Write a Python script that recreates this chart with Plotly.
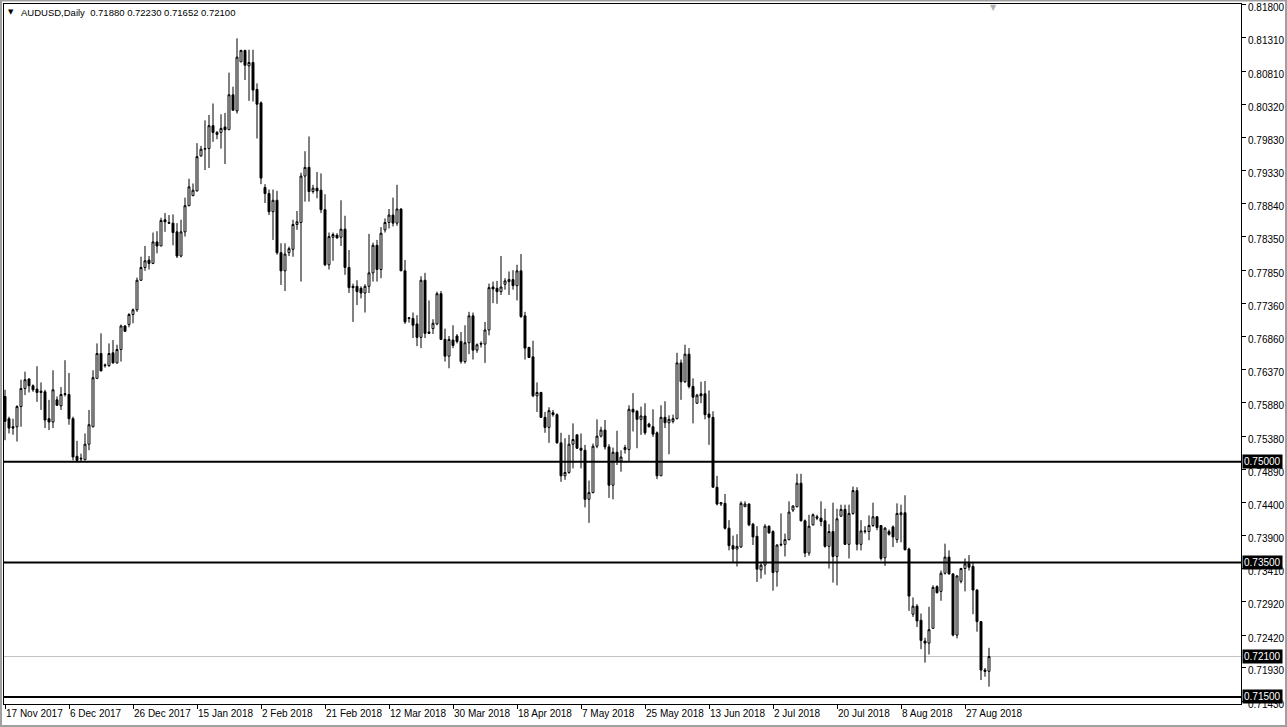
import pandas as pd
import plotly.graph_objects as go

# ---------------- data ----------------
symbol = "AUDUSD"
timeframe = "Daily"

# daily bars (Sun-Fri, broker calendar), 17 Nov 2017 .. 3 Sep 2018
_all_days = pd.date_range("2017-11-17", "2018-09-03", freq="D")
holidays = ["2017-12-25", "2018-01-01"]
dates = [d for d in _all_days if d.weekday() != 5 and d.strftime("%Y-%m-%d") not in holidays]

opens = [
    0.7597, 0.7564, 0.7552, 0.7552, 0.7582, 0.7609, 0.7623, 0.7613, 0.7608, 0.7605,
    0.7604, 0.7564, 0.7559, 0.7592, 0.7583, 0.7600, 0.7600, 0.7564, 0.7508, 0.7504,
    0.7503, 0.7526, 0.7552, 0.7624, 0.7661, 0.7644, 0.7643, 0.7662, 0.7647, 0.7667,
    0.7702, 0.7704, 0.7719, 0.7726, 0.7770, 0.7789, 0.7800, 0.7795, 0.7827, 0.7821,
    0.7860, 0.7856, 0.7855, 0.7842, 0.7806, 0.7842, 0.7881, 0.7896, 0.7903, 0.7955,
    0.7965, 0.7966, 0.8000, 0.7987, 0.7990, 0.7998, 0.7994, 0.8046, 0.8022, 0.8095,
    0.8112, 0.8089, 0.8094, 0.8054, 0.8034, 0.7908, 0.7899, 0.7872, 0.7889, 0.7811,
    0.7784, 0.7811, 0.7816, 0.7853, 0.7856, 0.7925, 0.7938, 0.7902, 0.7907, 0.7904,
    0.7875, 0.7793, 0.7834, 0.7837, 0.7834, 0.7846, 0.7789, 0.7761, 0.7761, 0.7758,
    0.7751, 0.7761, 0.7781, 0.7822, 0.7786, 0.7845, 0.7856, 0.7867, 0.7855, 0.7876,
    0.7784, 0.7713, 0.7713, 0.7705, 0.7685, 0.7770, 0.7693, 0.7698, 0.7705, 0.7750,
    0.7682, 0.7657, 0.7681, 0.7687, 0.7679, 0.7649, 0.7677, 0.7717, 0.7666, 0.7676,
    0.7675, 0.7696, 0.7760, 0.7758, 0.7753, 0.7764, 0.7768, 0.7771, 0.7762, 0.7784,
    0.7717, 0.7670, 0.7656, 0.7598, 0.7603, 0.7566, 0.7551, 0.7573, 0.7570, 0.7528,
    0.7479, 0.7484, 0.7526, 0.7540, 0.7520, 0.7517, 0.7444, 0.7454, 0.7523, 0.7538,
    0.7547, 0.7522, 0.7465, 0.7514, 0.7501, 0.7518, 0.7518, 0.7578, 0.7575, 0.7563,
    0.7568, 0.7556, 0.7552, 0.7543, 0.7479, 0.7566, 0.7558, 0.7560, 0.7564, 0.7647,
    0.7619, 0.7660, 0.7612, 0.7587, 0.7601, 0.7601, 0.7571, 0.7566, 0.7462, 0.7437,
    0.7438, 0.7401, 0.7375, 0.7370, 0.7373, 0.7433, 0.7437, 0.7407, 0.7389, 0.7339,
    0.7346, 0.7404, 0.7396, 0.7336, 0.7376, 0.7377, 0.7384, 0.7428, 0.7433, 0.7468,
    0.7412, 0.7364, 0.7406, 0.7418, 0.7416, 0.7412, 0.7374, 0.7396, 0.7359, 0.7419,
    0.7429, 0.7377, 0.7423, 0.7457, 0.7377, 0.7397, 0.7396, 0.7405, 0.7418, 0.7405,
    0.7357, 0.7396, 0.7403, 0.7384, 0.7421, 0.7424, 0.7370, 0.7273, 0.7285, 0.7264,
    0.7233, 0.7230, 0.7252, 0.7314, 0.7307, 0.7334, 0.7358, 0.7333, 0.7242, 0.7322,
    0.7341, 0.7349, 0.7344, 0.7309, 0.7262, 0.7190, 0.71880,
]
highs = [
    0.7607, 0.7567, 0.7564, 0.7584, 0.7622, 0.7634, 0.7624, 0.7615, 0.7642, 0.7618,
    0.7607, 0.7592, 0.7636, 0.7597, 0.7611, 0.7651, 0.7632, 0.7567, 0.7531, 0.7512,
    0.7542, 0.7577, 0.7636, 0.7676, 0.7691, 0.7646, 0.7676, 0.7681, 0.7674, 0.7704,
    0.7703, 0.7721, 0.7728, 0.7774, 0.7805, 0.7821, 0.7806, 0.7841, 0.7843, 0.7863,
    0.7870, 0.7867, 0.7868, 0.7855, 0.7860, 0.7893, 0.7921, 0.7914, 0.7974, 0.7970,
    0.8008, 0.8016, 0.8033, 0.7992, 0.8017, 0.8019, 0.8079, 0.8058, 0.8130, 0.8113,
    0.8113, 0.8113, 0.8113, 0.8063, 0.8036, 0.7913, 0.7905, 0.7905, 0.7903, 0.7825,
    0.7825, 0.7820, 0.7860, 0.7873, 0.7930, 0.7962, 0.7984, 0.7912, 0.7931, 0.7929,
    0.7898, 0.7841, 0.7841, 0.7840, 0.7889, 0.7866, 0.7815, 0.7765, 0.7770, 0.7761,
    0.7764, 0.7839, 0.7826, 0.7830, 0.7849, 0.7862, 0.7876, 0.7893, 0.7912, 0.7877,
    0.7800, 0.7715, 0.7722, 0.7718, 0.7776, 0.7781, 0.7740, 0.7712, 0.7753, 0.7754,
    0.7698, 0.7687, 0.7703, 0.7690, 0.7693, 0.7703, 0.7723, 0.7722, 0.7676, 0.7679,
    0.7708, 0.7765, 0.7768, 0.7769, 0.7806, 0.7773, 0.7783, 0.7785, 0.7793, 0.7809,
    0.7723, 0.7671, 0.7680, 0.7618, 0.7604, 0.7574, 0.7581, 0.7577, 0.7572, 0.7543,
    0.7535, 0.7540, 0.7557, 0.7540, 0.7542, 0.7525, 0.7472, 0.7527, 0.7563, 0.7552,
    0.7562, 0.7526, 0.7521, 0.7546, 0.7517, 0.7525, 0.7584, 0.7602, 0.7577, 0.7582,
    0.7587, 0.7558, 0.7578, 0.7545, 0.7584, 0.7590, 0.7569, 0.7570, 0.7662, 0.7652,
    0.7674, 0.7669, 0.7624, 0.7601, 0.7619, 0.7620, 0.7606, 0.7575, 0.7479, 0.7440,
    0.7452, 0.7413, 0.7390, 0.7392, 0.7441, 0.7441, 0.7438, 0.7409, 0.7404, 0.7349,
    0.7407, 0.7405, 0.7398, 0.7377, 0.7423, 0.7393, 0.7441, 0.7435, 0.7482, 0.7482,
    0.7414, 0.7421, 0.7423, 0.7421, 0.7441, 0.7430, 0.7407, 0.7439, 0.7430, 0.7436,
    0.7436, 0.7436, 0.7463, 0.7462, 0.7413, 0.7404, 0.7420, 0.7439, 0.7419, 0.7405,
    0.7403, 0.7399, 0.7405, 0.7438, 0.7436, 0.7450, 0.7372, 0.7298, 0.7288, 0.7274,
    0.7238, 0.7284, 0.7316, 0.7316, 0.7338, 0.7378, 0.7368, 0.7334, 0.7331, 0.7342,
    0.7356, 0.7361, 0.7349, 0.7310, 0.7263, 0.7193, 0.72230,
]
lows = [
    0.7532, 0.7542, 0.7540, 0.7530, 0.7552, 0.7599, 0.7603, 0.7604, 0.7589, 0.7577,
    0.7550, 0.7547, 0.7550, 0.7583, 0.7577, 0.7597, 0.7555, 0.7502, 0.7500, 0.7500,
    0.7502, 0.7517, 0.7551, 0.7624, 0.7635, 0.7640, 0.7641, 0.7646, 0.7646, 0.7649,
    0.7694, 0.7700, 0.7706, 0.7723, 0.7769, 0.7784, 0.7786, 0.7794, 0.7810, 0.7821,
    0.7842, 0.7854, 0.7822, 0.7803, 0.7804, 0.7835, 0.7880, 0.7895, 0.7902, 0.7954,
    0.7934, 0.7937, 0.7976, 0.7980, 0.7966, 0.7943, 0.7994, 0.8023, 0.8018, 0.8095,
    0.8068, 0.8037, 0.8036, 0.7981, 0.7913, 0.7885, 0.7867, 0.7830, 0.7808, 0.7763,
    0.7754, 0.7806, 0.7805, 0.7845, 0.7768, 0.7887, 0.7887, 0.7899, 0.7892, 0.7870,
    0.7791, 0.7786, 0.7799, 0.7832, 0.7821, 0.7778, 0.7751, 0.7708, 0.7733, 0.7743,
    0.7722, 0.7751, 0.7768, 0.7768, 0.7773, 0.7841, 0.7847, 0.7850, 0.7851, 0.7784,
    0.7705, 0.7707, 0.7684, 0.7672, 0.7669, 0.7684, 0.7690, 0.7690, 0.7703, 0.7681,
    0.7649, 0.7639, 0.7669, 0.7676, 0.7646, 0.7646, 0.7660, 0.7652, 0.7662, 0.7670,
    0.7647, 0.7688, 0.7736, 0.7735, 0.7748, 0.7756, 0.7748, 0.7756, 0.7740, 0.7714,
    0.7652, 0.7655, 0.7596, 0.7574, 0.7565, 0.7543, 0.7528, 0.7567, 0.7527, 0.7470,
    0.7473, 0.7482, 0.7490, 0.7519, 0.7490, 0.7432, 0.7409, 0.7453, 0.7520, 0.7536,
    0.7518, 0.7446, 0.7444, 0.7495, 0.7485, 0.7512, 0.7500, 0.7545, 0.7520, 0.7540,
    0.7540, 0.7551, 0.7537, 0.7474, 0.7479, 0.7550, 0.7511, 0.7557, 0.7563, 0.7592,
    0.7617, 0.7609, 0.7557, 0.7586, 0.7587, 0.7563, 0.7525, 0.7462, 0.7435, 0.7434,
    0.7399, 0.7368, 0.7350, 0.7344, 0.7372, 0.7433, 0.7404, 0.7376, 0.7321, 0.7326,
    0.7332, 0.7393, 0.7308, 0.7314, 0.7374, 0.7359, 0.7383, 0.7425, 0.7432, 0.7411,
    0.7358, 0.7360, 0.7405, 0.7413, 0.7404, 0.7372, 0.7341, 0.7320, 0.7316, 0.7418,
    0.7376, 0.7356, 0.7421, 0.7368, 0.7368, 0.7393, 0.7383, 0.7403, 0.7398, 0.7353,
    0.7345, 0.7390, 0.7373, 0.7379, 0.7380, 0.7368, 0.7278, 0.7269, 0.7254, 0.7221,
    0.7201, 0.7213, 0.7252, 0.7304, 0.7293, 0.7332, 0.7332, 0.7240, 0.7237, 0.7319,
    0.7307, 0.7338, 0.7273, 0.7247, 0.7175, 0.7180, 0.71652,
]
closes = [
    0.7560, 0.7550, 0.7550, 0.7582, 0.7609, 0.7622, 0.7613, 0.7607, 0.7603, 0.7603,
    0.7562, 0.7559, 0.7607, 0.7584, 0.7600, 0.7601, 0.7564, 0.7507, 0.7502, 0.7505,
    0.7526, 0.7555, 0.7625, 0.7661, 0.7635, 0.7643, 0.7661, 0.7647, 0.7667, 0.7702,
    0.7694, 0.7719, 0.7726, 0.7770, 0.7789, 0.7799, 0.7795, 0.7827, 0.7821, 0.7859,
    0.7857, 0.7855, 0.7841, 0.7806, 0.7842, 0.7881, 0.7909, 0.7904, 0.7954, 0.7965,
    0.7966, 0.8000, 0.7990, 0.7990, 0.7996, 0.7994, 0.8046, 0.8023, 0.8102, 0.8112,
    0.8090, 0.8094, 0.8053, 0.8032, 0.7922, 0.7899, 0.7872, 0.7889, 0.7811, 0.7784,
    0.7809, 0.7817, 0.7853, 0.7857, 0.7925, 0.7938, 0.7902, 0.7907, 0.7903, 0.7875,
    0.7793, 0.7835, 0.7838, 0.7833, 0.7846, 0.7789, 0.7759, 0.7759, 0.7753, 0.7751,
    0.7761, 0.7781, 0.7822, 0.7786, 0.7840, 0.7856, 0.7867, 0.7855, 0.7876, 0.7784,
    0.7708, 0.7714, 0.7703, 0.7685, 0.7770, 0.7691, 0.7691, 0.7706, 0.7750, 0.7682,
    0.7657, 0.7682, 0.7673, 0.7679, 0.7649, 0.7677, 0.7717, 0.7666, 0.7674, 0.7675,
    0.7696, 0.7759, 0.7757, 0.7753, 0.7760, 0.7769, 0.7771, 0.7762, 0.7784, 0.7716,
    0.7669, 0.7655, 0.7598, 0.7603, 0.7566, 0.7551, 0.7576, 0.7570, 0.7528, 0.7479,
    0.7484, 0.7526, 0.7533, 0.7520, 0.7517, 0.7444, 0.7454, 0.7523, 0.7538, 0.7547,
    0.7522, 0.7465, 0.7514, 0.7501, 0.7507, 0.7521, 0.7578, 0.7574, 0.7563, 0.7568,
    0.7543, 0.7552, 0.7541, 0.7479, 0.7566, 0.7558, 0.7563, 0.7564, 0.7647, 0.7619,
    0.7660, 0.7612, 0.7596, 0.7599, 0.7598, 0.7570, 0.7566, 0.7462, 0.7437, 0.7439,
    0.7401, 0.7375, 0.7370, 0.7374, 0.7438, 0.7437, 0.7406, 0.7388, 0.7340, 0.7346,
    0.7404, 0.7394, 0.7335, 0.7376, 0.7377, 0.7384, 0.7425, 0.7434, 0.7468, 0.7412,
    0.7364, 0.7404, 0.7421, 0.7416, 0.7411, 0.7374, 0.7396, 0.7359, 0.7415, 0.7429,
    0.7377, 0.7423, 0.7457, 0.7377, 0.7397, 0.7396, 0.7405, 0.7418, 0.7402, 0.7356,
    0.7401, 0.7392, 0.7388, 0.7423, 0.7424, 0.7369, 0.7300, 0.7285, 0.7263, 0.7234,
    0.7230, 0.7250, 0.7313, 0.7305, 0.7334, 0.7358, 0.7333, 0.7242, 0.7330, 0.7341,
    0.7348, 0.7343, 0.7309, 0.7262, 0.7190, 0.7188, 0.72100,
]

# horizontal levels drawn on the chart
support_levels = [0.7500, 0.7350, 0.7150]
bid_level = 0.7210

# price-scale labels (right axis)
price_ticks = [0.81800, 0.81310, 0.80810, 0.80320, 0.79830, 0.79330, 0.78840, 0.78350,
               0.77850, 0.77360, 0.76860, 0.76370, 0.75880, 0.75380, 0.74890, 0.74400,
               0.73900, 0.73410, 0.72920, 0.72420, 0.71930, 0.71430]
# time-scale labels
date_labels = ["17 Nov 2017", "6 Dec 2017", "26 Dec 2017", "15 Jan 2018", "2 Feb 2018",
               "21 Feb 2018", "12 Mar 2018", "30 Mar 2018", "18 Apr 2018", "7 May 2018",
               "25 May 2018", "13 Jun 2018", "2 Jul 2018", "20 Jul 2018", "8 Aug 2018",
               "27 Aug 2018"]

# ---------------- figure ----------------
W, H = 1287, 727
ML, MR, MT, MB = 4, 46, 4, 23
FONT = "Liberation Sans, Arial, sans-serif"
pw, ph = W - ML - MR, H - MT - MB

bar_pos = list(range(len(dates)))
date_keys = [d.strftime("%-d %b %Y") for d in dates]
date_tickvals = [date_keys.index(lbl) for lbl in date_labels]

fig = go.Figure()
fig.add_trace(go.Candlestick(
    x=bar_pos, open=opens, high=highs, low=lows, close=closes,
    increasing=dict(line=dict(color="black", width=1), fillcolor="white"),
    decreasing=dict(line=dict(color="black", width=1), fillcolor="black"),
    whiskerwidth=0, hoverinfo="skip", showlegend=False,
))

shapes = []
shapes.append(dict(type="line", xref="paper", yref="y", x0=0, x1=1, y0=bid_level, y1=bid_level,
                   line=dict(color="#c0c0c0", width=1), layer="below"))
for lv in support_levels:
    shapes.append(dict(type="line", xref="paper", yref="y", x0=0, x1=1, y0=lv, y1=lv,
                       line=dict(color="black", width=2), layer="above"))
# outer window frame
shapes.append(dict(type="rect", xref="paper", yref="paper",
                   x0=(1 - ML) / pw, x1=(W - 1 - ML) / pw,
                   y0=-(MB - 1) / ph, y1=1 + (MT - 0.5) / ph,
                   line=dict(color="#a0a0a0", width=2), layer="below"))

annotations = []
for lv in support_levels + [bid_level]:
    annotations.append(dict(xref="paper", yref="y", x=1, y=lv, xanchor="left", yanchor="middle",
                            xshift=1, text=f"{lv:.5f}", showarrow=False,
                            font=dict(family=FONT, size=10, color="white"),
                            bgcolor="black", borderpad=1))
header = f"{symbol},{timeframe}  {opens[-1]:.5f} {highs[-1]:.5f} {lows[-1]:.5f} {closes[-1]:.5f}"
annotations.append(dict(xref="paper", yref="paper", x=(19 - ML) / pw, y=1 - (12 - MT) / ph,
                        xanchor="left", yanchor="middle", text=header, showarrow=False,
                        font=dict(family=FONT, size=9.5, color="black")))
annotations.append(dict(xref="paper", yref="paper", x=(11 - ML) / pw, y=1 - (12 - MT) / ph,
                        xanchor="center", yanchor="middle", text="▼", showarrow=False,
                        font=dict(family="DejaVu Sans", size=7, color="black")))
annotations.append(dict(xref="paper", yref="paper", x=(993 - ML) / pw, y=1 - (7 - MT) / ph,
                        xanchor="center", yanchor="middle", text="▼", showarrow=False,
                        font=dict(family="DejaVu Sans", size=8, color="#b0b0b0")))

fig.update_layout(
    template="none",
    width=W, height=H,
    margin=dict(l=ML, r=MR, t=MT, b=MB, pad=0, autoexpand=False),
    paper_bgcolor="white", plot_bgcolor="white",
    font=dict(family=FONT, size=10, color="black"),
    shapes=shapes, annotations=annotations,
    xaxis=dict(range=[-0.25, pw / 4 - 0.25], showgrid=False, zeroline=False, automargin=False,
               rangeslider=dict(visible=False),
               tickmode="array", tickvals=date_tickvals, ticktext=date_labels,
               tickangle=0,
               ticks="outside", ticklen=4, tickcolor="black", tickwidth=1,
               ticklabelposition="outside right",
               showline=True, linecolor="black", linewidth=1, mirror=True,
               tickfont=dict(family=FONT, size=10, color="black")),
    yaxis=dict(range=[0.71394, 0.81811], side="right", showgrid=False, zeroline=False,
               automargin=False, ticklabeloverflow="allow", ticklabelshift=3,
               tickmode="array", tickvals=price_ticks, ticktext=[f"{v:.5f}" for v in price_ticks],
               ticks="outside", ticklen=4, tickcolor="black", tickwidth=1,
               showline=True, linecolor="black", linewidth=1, mirror=True,
               tickfont=dict(family=FONT, size=10, color="black")),
    hovermode=False,
)

fig.write_html("out.html", config={"displayModeBar": False},
               post_script="document.body.style.margin='0px';document.body.style.padding='0px';")
